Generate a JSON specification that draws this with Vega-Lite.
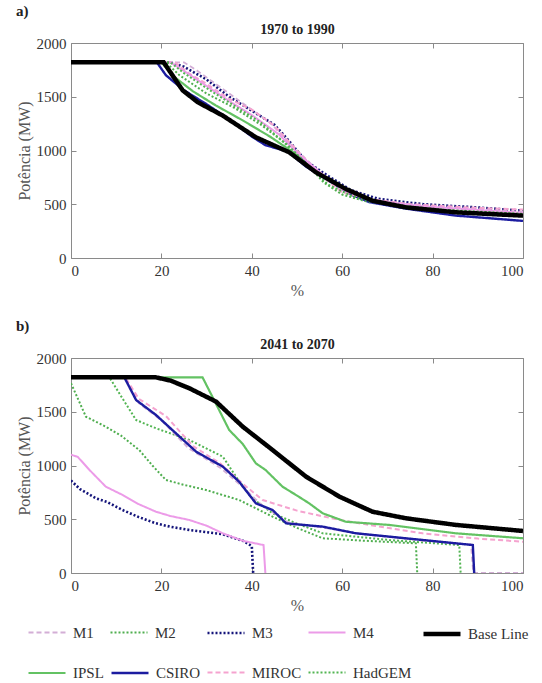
{
"$schema":"https://vega.github.io/schema/vega-lite/v6.json",
"padding":{"left":15,"top":3,"right":8,"bottom":5},
"config":{
 "font":"Liberation Serif, serif",
 "view":{"stroke":"#8a8a8a","strokeWidth":1},
 "axis":{"labelFont":"Liberation Serif, serif","labelFontSize":15,"labelColor":"#333","titleFont":"Liberation Serif, serif","titleFontSize":16,"titleColor":"#555","titleFontWeight":"normal","domain":false,"grid":false,"tickColor":"#8a8a8a","tickSize":-5,"labelPadding":10,"format":"d"},
 "title":{"font":"Liberation Serif, serif","fontSize":15,"fontWeight":"bold","color":"#222","anchor":"start","frame":"bounds"},
 "legend":{"orient":"none","legendX":-45,"legendY":570,"direction":"horizontal","columns":5,"gridAlign":"none","symbolType":"stroke","symbolSize":1369,"labelFont":"Liberation Serif, serif","labelFontSize":15,"labelColor":"#333","columnPadding":2,"rowPadding":10,"labelOffset":5}
},
"data":{"values":[
{"panel":"a","series":"CSIRO","x":0,"y":1820},{"panel":"a","series":"CSIRO","x":19,"y":1820},{"panel":"a","series":"CSIRO","x":21,"y":1700},{"panel":"a","series":"CSIRO","x":25,"y":1560},{"panel":"a","series":"CSIRO","x":30,"y":1430},{"panel":"a","series":"CSIRO","x":35,"y":1290},{"panel":"a","series":"CSIRO","x":40,"y":1130},{"panel":"a","series":"CSIRO","x":43,"y":1050},{"panel":"a","series":"CSIRO","x":48,"y":990},{"panel":"a","series":"CSIRO","x":52,"y":850},{"panel":"a","series":"CSIRO","x":57,"y":720},{"panel":"a","series":"CSIRO","x":62,"y":590},{"panel":"a","series":"CSIRO","x":66,"y":520},{"panel":"a","series":"CSIRO","x":74,"y":460},{"panel":"a","series":"CSIRO","x":85,"y":395},{"panel":"a","series":"CSIRO","x":100,"y":345},
{"panel":"a","series":"IPSL","x":0,"y":1820},{"panel":"a","series":"IPSL","x":20,"y":1820},{"panel":"a","series":"IPSL","x":23,"y":1680},{"panel":"a","series":"IPSL","x":27,"y":1550},{"panel":"a","series":"IPSL","x":32,"y":1420},{"panel":"a","series":"IPSL","x":38,"y":1280},{"panel":"a","series":"IPSL","x":44,"y":1130},{"panel":"a","series":"IPSL","x":50,"y":960},{"panel":"a","series":"IPSL","x":55,"y":790},{"panel":"a","series":"IPSL","x":60,"y":650},{"panel":"a","series":"IPSL","x":66,"y":540},{"panel":"a","series":"IPSL","x":75,"y":470},{"panel":"a","series":"IPSL","x":85,"y":420},{"panel":"a","series":"IPSL","x":100,"y":390},
{"panel":"a","series":"M3","x":0,"y":1820},{"panel":"a","series":"M3","x":22,"y":1820},{"panel":"a","series":"M3","x":25,"y":1780},{"panel":"a","series":"M3","x":30,"y":1660},{"panel":"a","series":"M3","x":35,"y":1500},{"panel":"a","series":"M3","x":40,"y":1370},{"panel":"a","series":"M3","x":45,"y":1240},{"panel":"a","series":"M3","x":48,"y":1100},{"panel":"a","series":"M3","x":52,"y":900},{"panel":"a","series":"M3","x":57,"y":760},{"panel":"a","series":"M3","x":62,"y":630},{"panel":"a","series":"M3","x":68,"y":550},{"panel":"a","series":"M3","x":78,"y":500},{"panel":"a","series":"M3","x":90,"y":470},{"panel":"a","series":"M3","x":100,"y":440},
{"panel":"a","series":"M1","x":0,"y":1820},{"panel":"a","series":"M1","x":25,"y":1820},{"panel":"a","series":"M1","x":28,"y":1740},{"panel":"a","series":"M1","x":32,"y":1620},{"panel":"a","series":"M1","x":38,"y":1440},{"panel":"a","series":"M1","x":44,"y":1260},{"panel":"a","series":"M1","x":50,"y":1000},{"panel":"a","series":"M1","x":55,"y":800},{"panel":"a","series":"M1","x":60,"y":620},{"panel":"a","series":"M1","x":66,"y":540},{"panel":"a","series":"M1","x":75,"y":500},{"panel":"a","series":"M1","x":88,"y":460},{"panel":"a","series":"M1","x":100,"y":430},
{"panel":"a","series":"MIROC","x":0,"y":1820},{"panel":"a","series":"MIROC","x":23,"y":1820},{"panel":"a","series":"MIROC","x":26,"y":1720},{"panel":"a","series":"MIROC","x":30,"y":1620},{"panel":"a","series":"MIROC","x":35,"y":1480},{"panel":"a","series":"MIROC","x":40,"y":1380},{"panel":"a","series":"MIROC","x":45,"y":1230},{"panel":"a","series":"MIROC","x":50,"y":1000},{"panel":"a","series":"MIROC","x":55,"y":780},{"panel":"a","series":"MIROC","x":60,"y":610},{"panel":"a","series":"MIROC","x":66,"y":550},{"panel":"a","series":"MIROC","x":75,"y":500},{"panel":"a","series":"MIROC","x":88,"y":470},{"panel":"a","series":"MIROC","x":100,"y":450},
{"panel":"a","series":"M4","x":0,"y":1820},{"panel":"a","series":"M4","x":22,"y":1820},{"panel":"a","series":"M4","x":25,"y":1740},{"panel":"a","series":"M4","x":30,"y":1600},{"panel":"a","series":"M4","x":35,"y":1460},{"panel":"a","series":"M4","x":40,"y":1330},{"panel":"a","series":"M4","x":46,"y":1150},{"panel":"a","series":"M4","x":50,"y":980},{"panel":"a","series":"M4","x":55,"y":800},{"panel":"a","series":"M4","x":60,"y":640},{"panel":"a","series":"M4","x":66,"y":540},{"panel":"a","series":"M4","x":78,"y":480},{"panel":"a","series":"M4","x":100,"y":420},
{"panel":"a","series":"M2","x":0,"y":1820},{"panel":"a","series":"M2","x":21,"y":1820},{"panel":"a","series":"M2","x":24,"y":1700},{"panel":"a","series":"M2","x":30,"y":1530},{"panel":"a","series":"M2","x":36,"y":1400},{"panel":"a","series":"M2","x":42,"y":1240},{"panel":"a","series":"M2","x":48,"y":1050},{"panel":"a","series":"M2","x":52,"y":880},{"panel":"a","series":"M2","x":56,"y":700},{"panel":"a","series":"M2","x":60,"y":590},{"panel":"a","series":"M2","x":65,"y":530},{"panel":"a","series":"M2","x":75,"y":470},{"panel":"a","series":"M2","x":88,"y":430},{"panel":"a","series":"M2","x":100,"y":410},
{"panel":"a","series":"HadGEM","x":0,"y":1820},{"panel":"a","series":"HadGEM","x":22,"y":1820},{"panel":"a","series":"HadGEM","x":25,"y":1720},{"panel":"a","series":"HadGEM","x":30,"y":1580},{"panel":"a","series":"HadGEM","x":36,"y":1420},{"panel":"a","series":"HadGEM","x":42,"y":1260},{"panel":"a","series":"HadGEM","x":47,"y":1080},{"panel":"a","series":"HadGEM","x":52,"y":870},{"panel":"a","series":"HadGEM","x":57,"y":680},{"panel":"a","series":"HadGEM","x":62,"y":580},{"panel":"a","series":"HadGEM","x":70,"y":500},{"panel":"a","series":"HadGEM","x":82,"y":450},{"panel":"a","series":"HadGEM","x":100,"y":410},
{"panel":"a","series":"Base Line","x":0,"y":1820},{"panel":"a","series":"Base Line","x":20.5,"y":1820},{"panel":"a","series":"Base Line","x":24.7,"y":1560},{"panel":"a","series":"Base Line","x":28,"y":1450},{"panel":"a","series":"Base Line","x":33.6,"y":1324},{"panel":"a","series":"Base Line","x":40.9,"y":1123},{"panel":"a","series":"Base Line","x":48.3,"y":983},{"panel":"a","series":"Base Line","x":54.2,"y":797},{"panel":"a","series":"Base Line","x":60.8,"y":642},{"panel":"a","series":"Base Line","x":66.7,"y":533},{"panel":"a","series":"Base Line","x":74.1,"y":471},{"panel":"a","series":"Base Line","x":85.2,"y":425},{"panel":"a","series":"Base Line","x":100,"y":394},
{"panel":"b","series":"M3","x":0,"y":860},{"panel":"b","series":"M3","x":2,"y":780},{"panel":"b","series":"M3","x":5.5,"y":695},{"panel":"b","series":"M3","x":8,"y":660},{"panel":"b","series":"M3","x":11.4,"y":586},{"panel":"b","series":"M3","x":15,"y":520},{"panel":"b","series":"M3","x":18.8,"y":462},{"panel":"b","series":"M3","x":22,"y":430},{"panel":"b","series":"M3","x":26.2,"y":400},{"panel":"b","series":"M3","x":33.6,"y":360},{"panel":"b","series":"M3","x":38,"y":300},{"panel":"b","series":"M3","x":40,"y":250},{"panel":"b","series":"M3","x":40.3,"y":0},
{"panel":"b","series":"M4","x":0,"y":1100},{"panel":"b","series":"M4","x":1.5,"y":1080},{"panel":"b","series":"M4","x":4.1,"y":958},{"panel":"b","series":"M4","x":7.7,"y":803},{"panel":"b","series":"M4","x":11.4,"y":726},{"panel":"b","series":"M4","x":15,"y":640},{"panel":"b","series":"M4","x":18.8,"y":570},{"panel":"b","series":"M4","x":22,"y":530},{"panel":"b","series":"M4","x":26.2,"y":493},{"panel":"b","series":"M4","x":30,"y":440},{"panel":"b","series":"M4","x":33.6,"y":369},{"panel":"b","series":"M4","x":38,"y":300},{"panel":"b","series":"M4","x":42.6,"y":260},{"panel":"b","series":"M4","x":43,"y":0},
{"panel":"b","series":"M2","x":0,"y":1765},{"panel":"b","series":"M2","x":3.3,"y":1454},{"panel":"b","series":"M2","x":7.7,"y":1361},{"panel":"b","series":"M2","x":11,"y":1280},{"panel":"b","series":"M2","x":15.1,"y":1144},{"panel":"b","series":"M2","x":18,"y":1000},{"panel":"b","series":"M2","x":21,"y":865},{"panel":"b","series":"M2","x":25,"y":820},{"panel":"b","series":"M2","x":29.9,"y":772},{"panel":"b","series":"M2","x":37.2,"y":679},{"panel":"b","series":"M2","x":44.6,"y":524},{"panel":"b","series":"M2","x":50,"y":420},{"panel":"b","series":"M2","x":55.7,"y":323},{"panel":"b","series":"M2","x":65,"y":300},{"panel":"b","series":"M2","x":76.3,"y":276},{"panel":"b","series":"M2","x":76.6,"y":0},
{"panel":"b","series":"HadGEM","x":0,"y":1820},{"panel":"b","series":"HadGEM","x":8.5,"y":1820},{"panel":"b","series":"HadGEM","x":11,"y":1650},{"panel":"b","series":"HadGEM","x":14.4,"y":1423},{"panel":"b","series":"HadGEM","x":18.8,"y":1346},{"panel":"b","series":"HadGEM","x":26.2,"y":1237},{"panel":"b","series":"HadGEM","x":33.6,"y":1082},{"panel":"b","series":"HadGEM","x":36.5,"y":896},{"panel":"b","series":"HadGEM","x":40,"y":700},{"panel":"b","series":"HadGEM","x":44.6,"y":555},{"panel":"b","series":"HadGEM","x":50,"y":460},{"panel":"b","series":"HadGEM","x":55.7,"y":369},{"panel":"b","series":"HadGEM","x":70.4,"y":307},{"panel":"b","series":"HadGEM","x":85.9,"y":260},{"panel":"b","series":"HadGEM","x":86.2,"y":0},
{"panel":"b","series":"M1","x":0,"y":1820},{"panel":"b","series":"M1","x":12,"y":1820},{"panel":"b","series":"M1","x":15,"y":1580},{"panel":"b","series":"M1","x":20,"y":1420},{"panel":"b","series":"M1","x":26,"y":1160},{"panel":"b","series":"M1","x":33,"y":980},{"panel":"b","series":"M1","x":38,"y":800},{"panel":"b","series":"M1","x":42,"y":640},{"panel":"b","series":"M1","x":48,"y":470},{"panel":"b","series":"M1","x":56,"y":420},{"panel":"b","series":"M1","x":65,"y":360},{"panel":"b","series":"M1","x":78,"y":300},{"panel":"b","series":"M1","x":88.5,"y":265},{"panel":"b","series":"M1","x":89,"y":0},{"panel":"b","series":"M1","x":100,"y":0},
{"panel":"b","series":"MIROC","x":0,"y":1820},{"panel":"b","series":"MIROC","x":12,"y":1820},{"panel":"b","series":"MIROC","x":15,"y":1620},{"panel":"b","series":"MIROC","x":21,"y":1460},{"panel":"b","series":"MIROC","x":27,"y":1180},{"panel":"b","series":"MIROC","x":33,"y":1020},{"panel":"b","series":"MIROC","x":38,"y":830},{"panel":"b","series":"MIROC","x":42.4,"y":679},{"panel":"b","series":"MIROC","x":50,"y":580},{"panel":"b","series":"MIROC","x":59.4,"y":493},{"panel":"b","series":"MIROC","x":70,"y":420},{"panel":"b","series":"MIROC","x":77.8,"y":369},{"panel":"b","series":"MIROC","x":90,"y":320},{"panel":"b","series":"MIROC","x":100,"y":291},
{"panel":"b","series":"CSIRO","x":0,"y":1820},{"panel":"b","series":"CSIRO","x":11.8,"y":1820},{"panel":"b","series":"CSIRO","x":14.4,"y":1609},{"panel":"b","series":"CSIRO","x":18.8,"y":1470},{"panel":"b","series":"CSIRO","x":23.2,"y":1300},{"panel":"b","series":"CSIRO","x":27.7,"y":1128},{"panel":"b","series":"CSIRO","x":33.6,"y":989},{"panel":"b","series":"CSIRO","x":37.2,"y":849},{"panel":"b","series":"CSIRO","x":40.9,"y":648},{"panel":"b","series":"CSIRO","x":44.6,"y":586},{"panel":"b","series":"CSIRO","x":47.6,"y":462},{"panel":"b","series":"CSIRO","x":55.7,"y":431},{"panel":"b","series":"CSIRO","x":63.1,"y":369},{"panel":"b","series":"CSIRO","x":77.8,"y":307},{"panel":"b","series":"CSIRO","x":88.9,"y":260},{"panel":"b","series":"CSIRO","x":89.2,"y":0},
{"panel":"b","series":"IPSL","x":0,"y":1820},{"panel":"b","series":"IPSL","x":29.1,"y":1820},{"panel":"b","series":"IPSL","x":32,"y":1580},{"panel":"b","series":"IPSL","x":35,"y":1330},{"panel":"b","series":"IPSL","x":38,"y":1200},{"panel":"b","series":"IPSL","x":40.9,"y":1020},{"panel":"b","series":"IPSL","x":43,"y":960},{"panel":"b","series":"IPSL","x":46.8,"y":803},{"panel":"b","series":"IPSL","x":50,"y":720},{"panel":"b","series":"IPSL","x":52.7,"y":648},{"panel":"b","series":"IPSL","x":55.7,"y":555},{"panel":"b","series":"IPSL","x":58,"y":520},{"panel":"b","series":"IPSL","x":60.8,"y":477},{"panel":"b","series":"IPSL","x":70.4,"y":447},{"panel":"b","series":"IPSL","x":85.2,"y":369},{"panel":"b","series":"IPSL","x":100,"y":323},
{"panel":"b","series":"Base Line","x":0,"y":1820},{"panel":"b","series":"Base Line","x":18.8,"y":1820},{"panel":"b","series":"Base Line","x":22,"y":1790},{"panel":"b","series":"Base Line","x":26.2,"y":1718},{"panel":"b","series":"Base Line","x":32.1,"y":1594},{"panel":"b","series":"Base Line","x":38,"y":1361},{"panel":"b","series":"Base Line","x":44.6,"y":1144},{"panel":"b","series":"Base Line","x":52,"y":896},{"panel":"b","series":"Base Line","x":59.4,"y":710},{"panel":"b","series":"Base Line","x":66.7,"y":570},{"panel":"b","series":"Base Line","x":74.1,"y":509},{"panel":"b","series":"Base Line","x":85.2,"y":447},{"panel":"b","series":"Base Line","x":100,"y":391}
]},
"vconcat":[
 {"title":{"text":"a)"},
  "width":452,"height":215,
  "transform":[{"filter":"datum.panel == 'a'"}],
  "layer":[
   {"mark":{"type":"line","clip":true},
    "encoding":{
     "x":{"field":"x","type":"quantitative","scale":{"domain":[0,100],"nice":false},"axis":{"orient":"bottom","title":"%","values":[0,20,40,60,80,100]}},
     "y":{"field":"y","type":"quantitative","scale":{"domain":[0,2000],"nice":false},"axis":{"orient":"left","title":"Potência (MW)","values":[0,500,1000,1500,2000]}},
     "color":{"field":"series","type":"nominal","title":null,"legend":{"gridAlign":"none","columns":5},"scale":{"domain":["M1","M2","M3","M4","Base Line","IPSL","CSIRO","MIROC","HadGEM"],"range":["#d3aed6","#4fae4f","#14147a","#ec9be8","#000000","#63c263","#1c1ca0","#f5a3cf","#53b553"]}},
     "strokeDash":{"field":"series","type":"nominal","title":null,"scale":{"domain":["M1","M2","M3","M4","Base Line","IPSL","CSIRO","MIROC","HadGEM"],"range":[[5,3],[2,2],[2,2],[1,0],[1,0],[1,0],[1,0],[5,3],[2,2]]}},
     "strokeWidth":{"field":"series","type":"nominal","title":null,"scale":{"type":"ordinal","domain":["M1","M2","M3","M4","Base Line","IPSL","CSIRO","MIROC","HadGEM"],"range":[1.8,2,2.6,2,4.5,2.2,2.4,2,2]}}
    }},
   {"mark":{"type":"point","opacity":0},
    "encoding":{
     "x":{"field":"x","type":"quantitative","axis":{"orient":"top","title":"1970 to 1990","titleFontWeight":"bold","titleColor":"#222","titleFontSize":14,"labels":false,"values":[0,20,40,60,80,100],"titlePadding":6}},
     "y":{"field":"y","type":"quantitative","axis":{"orient":"right","title":null,"labels":false,"values":[0,500,1000,1500,2000]}}
    }}
  ],
  "resolve":{"axis":{"x":"independent","y":"independent"}}
 },
 {"title":{"text":"b)"},
  "width":452,"height":215,
  "transform":[{"filter":"datum.panel == 'b'"}],
  "layer":[
   {"mark":{"type":"line","clip":true},
    "encoding":{
     "x":{"field":"x","type":"quantitative","scale":{"domain":[0,100],"nice":false},"axis":{"orient":"bottom","title":"%","values":[0,20,40,60,80,100]}},
     "y":{"field":"y","type":"quantitative","scale":{"domain":[0,2000],"nice":false},"axis":{"orient":"left","title":"Potência (MW)","values":[0,500,1000,1500,2000]}},
     "color":{"field":"series","type":"nominal","title":null,"legend":{"gridAlign":"none","columns":5},"scale":{"domain":["M1","M2","M3","M4","Base Line","IPSL","CSIRO","MIROC","HadGEM"],"range":["#d3aed6","#4fae4f","#14147a","#ec9be8","#000000","#63c263","#1c1ca0","#f5a3cf","#53b553"]}},
     "strokeDash":{"field":"series","type":"nominal","title":null,"scale":{"domain":["M1","M2","M3","M4","Base Line","IPSL","CSIRO","MIROC","HadGEM"],"range":[[5,3],[2,2],[2,2],[1,0],[1,0],[1,0],[1,0],[5,3],[2,2]]}},
     "strokeWidth":{"field":"series","type":"nominal","title":null,"scale":{"type":"ordinal","domain":["M1","M2","M3","M4","Base Line","IPSL","CSIRO","MIROC","HadGEM"],"range":[1.8,2,2.6,2,4.5,2.2,2.4,2,2]}}
    }},
   {"mark":{"type":"point","opacity":0},
    "encoding":{
     "x":{"field":"x","type":"quantitative","axis":{"orient":"top","title":"2041 to 2070","titleFontWeight":"bold","titleColor":"#222","titleFontSize":14,"labels":false,"values":[0,20,40,60,80,100],"titlePadding":6}},
     "y":{"field":"y","type":"quantitative","axis":{"orient":"right","title":null,"labels":false,"values":[0,500,1000,1500,2000]}}
    }}
  ],
  "resolve":{"axis":{"x":"independent","y":"independent"}}
 }
],
"spacing":19
}
